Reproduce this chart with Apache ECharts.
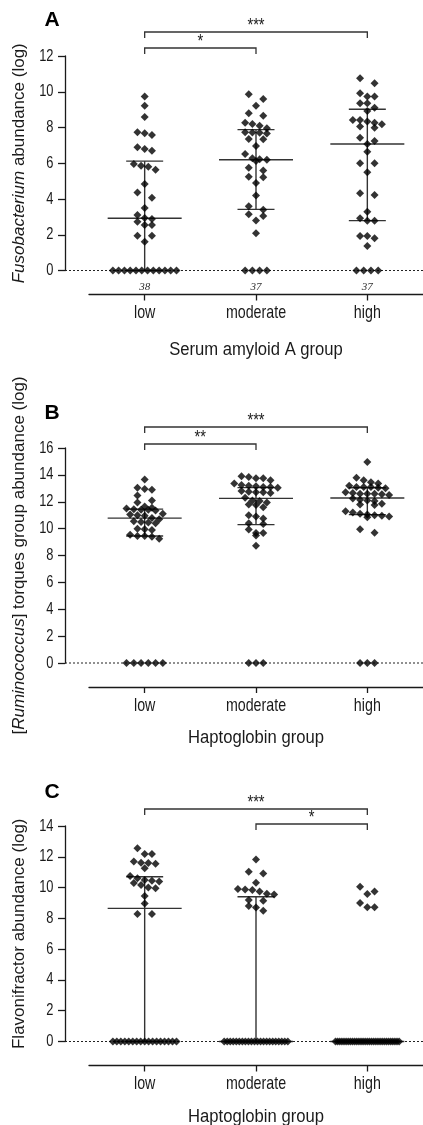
<!DOCTYPE html>
<html>
<head>
<meta charset="utf-8">
<script src="https://cdn.jsdelivr.net/npm/echarts@6/dist/echarts.min.js"></script>
<style>
  html, body { margin: 0; padding: 0; background: #fff; }
  #chart { width: 423px; height: 1125px; }
</style>
</head>
<body>
<div id="chart"></div>
<script>
// ---- data ---------------------------------------------------------------
const categories = ['low', 'moderate', 'high'];
const groupSizes = ['38', '37', '37'];

// Panel A: Fusobacterium abundance (log) by serum amyloid A group
const fusoTicks = [0, 2, 4, 6, 8, 10, 12];
const fusoLow = [9.73, 9.22, 8.59, 7.73, 7.68, 7.58, 6.89, 6.80, 6.70, 5.96, 5.86, 5.81, 5.64,
  4.84, 4.37, 4.07, 3.50, 3.11, 2.94, 2.88, 2.73, 2.55, 2.55, 1.95, 1.95, 1.61,
  0, 0, 0, 0, 0, 0, 0, 0, 0, 0, 0, 0];
const fusoModerate = [9.86, 9.60, 9.22, 8.80, 8.66, 8.27, 8.20, 8.10, 7.96, 7.74, 7.72, 7.70, 7.66,
  7.36, 7.34, 6.97, 6.52, 6.28, 6.22, 6.20, 6.13, 5.75, 5.60, 5.25, 5.22, 4.90, 4.20,
  3.60, 3.40, 3.15, 3.05, 2.80, 2.08, 0, 0, 0, 0];
const fusoHigh = [10.75, 10.47, 9.92, 9.73, 9.73, 9.36, 9.36, 9.11, 8.93, 8.42, 8.42, 8.33, 8.27,
  8.18, 8.05, 7.99, 7.43, 7.25, 7.08, 6.65, 6.00, 6.00, 5.49, 4.32, 4.22, 3.29, 2.92,
  2.79, 2.79, 1.93, 1.93, 1.80, 1.37, 0, 0, 0, 0];
const fusoMedian = [2.92, 6.20, 7.08];
const fusoQ1 = [0, 3.42, 2.79];
const fusoQ3 = [6.12, 7.88, 9.02];

// Panel B: [Ruminococcus] torques group abundance (log) by haptoglobin group
const rumTicks = [0, 2, 4, 6, 8, 10, 12, 14, 16];
const rumLow = [13.66, 13.05, 12.95, 12.90, 12.46, 12.10, 11.95, 11.65, 11.55, 11.50, 11.45, 11.40,
  11.40, 11.35, 11.10, 11.05, 11.00, 10.95, 10.80, 10.70, 10.55, 10.50, 10.45, 10.40,
  10.00, 9.95, 9.90, 9.55, 9.45, 9.45, 9.40, 9.25, 0, 0, 0, 0, 0, 0];
const rumModerate = [13.90, 13.85, 13.75, 13.75, 13.60, 13.36, 13.25, 13.20, 13.15, 13.10, 13.10,
  13.05, 12.80, 12.75, 12.70, 12.70, 12.65, 12.30, 12.10, 12.05, 11.95, 11.80, 11.75,
  11.60, 11.00, 10.90, 10.75, 10.40, 10.35, 9.93, 9.68, 9.68, 9.48, 8.73, 0, 0, 0];
const rumHigh = [14.95, 13.78, 13.60, 13.45, 13.35, 13.20, 13.10, 13.10, 13.10, 13.05, 13.00, 12.70,
  12.65, 12.60, 12.60, 12.60, 12.55, 12.50, 12.25, 12.15, 12.10, 12.05, 11.85, 11.80,
  11.75, 11.30, 11.20, 11.10, 11.05, 11.00, 10.95, 10.90, 10.85, 9.95, 9.70, 0, 0, 0];
const rumMedian = [10.78, 12.25, 12.28];
const rumQ1 = [9.45, 10.30, 11.04];
const rumQ3 = [11.45, 13.05, 13.04];

// Panel C: Flavonifractor abundance (log) by haptoglobin group
const flavTicks = [0, 2, 4, 6, 8, 10, 12, 14];
const flavLow = [12.55, 12.18, 12.18, 11.70, 11.62, 11.60, 11.55, 11.25, 10.75, 10.60, 10.50, 10.45,
  10.40, 10.30, 10.17, 10.00, 9.95, 9.45, 8.97, 8.28, 8.28,
  0, 0, 0, 0, 0, 0, 0, 0, 0, 0, 0, 0, 0, 0, 0, 0, 0];
const flavModerate = [11.83, 11.03, 10.92, 10.31, 9.90, 9.88, 9.85, 9.75, 9.60, 9.55, 9.20, 9.15,
  8.80, 8.71, 8.49,
  0, 0, 0, 0, 0, 0, 0, 0, 0, 0, 0, 0, 0, 0, 0, 0, 0, 0, 0, 0, 0, 0];
const flavHigh = [10.05, 9.75, 9.58, 9.00, 8.72, 8.72,
  0, 0, 0, 0, 0, 0, 0, 0, 0, 0, 0, 0, 0, 0, 0, 0, 0, 0, 0, 0, 0, 0, 0, 0, 0, 0, 0, 0, 0, 0, 0];
const flavMedian = [8.65, 0, 0];
const flavQ1 = [0, 0, 0];
const flavQ3 = [10.70, 9.40, 0];

// significance brackets: [from group, to group, label]
const fusoBrackets = [[0, 2, '***'], [0, 1, '*']];
const rumBrackets = [[0, 2, '***'], [0, 1, '**']];
const flavBrackets = [[0, 2, '***'], [1, 2, '*']];

// ---- layout ---------------------------------------------------------------
const SANS = "'Liberation Sans', Arial, sans-serif";
const INK = '#1a1a1a';
const GRID_LEFT = 89;
const GRID_WIDTH = 336;
const Y_OFFSET = 24;     // y axis drawn left of the plotting area
const X_OFFSET = 24;     // category axis drawn below the zero line
const DOT_GAP = 7.3;     // horizontal spacing of dots in a swarm row
const MAX_HALF = 32;     // maximum half-width of a swarm row
const ROW_PX = 6;        // values closer than this (px) share a row

const panels = [
  { letter: 'A', top: 56, height: 214.5, max: 12, ticks: fusoTicks,
    groups: [fusoLow, fusoModerate, fusoHigh], median: fusoMedian, q1: fusoQ1, q3: fusoQ3,
    brackets: fusoBrackets, bracketLift: [24, 8], letterY: 20, showN: true, titleGap: 56,
    yName: '{i|Fusobacterium} abundance (log)', xName: 'Serum amyloid A group' },
  { letter: 'B', top: 448, height: 215, max: 16, ticks: rumTicks,
    groups: [rumLow, rumModerate, rumHigh], median: rumMedian, q1: rumQ1, q3: rumQ3,
    brackets: rumBrackets, bracketLift: [21, 4], letterY: 413, showN: false, titleGap: 51,
    yName: '[{i|Ruminococcus}] torques group abundance (log)', xName: 'Haptoglobin group' },
  { letter: 'C', top: 826, height: 215.5, max: 14, ticks: flavTicks,
    groups: [flavLow, flavModerate, flavHigh], median: flavMedian, q1: flavQ1, q3: flavQ3,
    brackets: flavBrackets, bracketLift: [17, 2], letterY: 792, showN: false, titleGap: 52,
    yName: 'Flavonifractor abundance (log)', xName: 'Haptoglobin group' }
];

// Beeswarm: bin values into rows and spread each row symmetrically about the group centre.
function swarm(values, center, pxPerUnitY, pxPerUnitX) {
  const sorted = values.slice().sort((a, b) => b - a);
  const rows = [];
  let row = null;
  sorted.forEach(v => {
    if (!row || (row.start - v) * pxPerUnitY > ROW_PX) {
      row = { start: v, items: [] };
      rows.push(row);
    }
    row.items.push(v);
  });
  const out = [];
  rows.forEach(r => {
    const k = r.items.length;
    const gap = k > 1 ? Math.min(DOT_GAP, 2 * MAX_HALF / (k - 1)) : 0;
    r.items.forEach((v, i) => {
      const off = k === 2 ? (i === 0 ? -gap : gap) : (i - (k - 1) / 2) * gap;
      out.push([center + off / pxPerUnitX, v]);
    });
  });
  return out;
}

function renderStats(params, api) {
  const x = api.value(0);
  const m = api.coord([x, api.value(1)]);
  const a = api.coord([x, api.value(2)]);
  const b = api.coord([x, api.value(3)]);
  const style = { stroke: '#333', lineWidth: 1.4 };
  return {
    type: 'group',
    children: [
      { type: 'line', shape: { x1: m[0], y1: a[1], x2: m[0], y2: b[1] }, style },
      { type: 'line', shape: { x1: m[0] - 37, y1: m[1], x2: m[0] + 37, y2: m[1] }, style },
      { type: 'line', shape: { x1: a[0] - 18.5, y1: a[1], x2: a[0] + 18.5, y2: a[1] }, style },
      { type: 'line', shape: { x1: b[0] - 18.5, y1: b[1], x2: b[0] + 18.5, y2: b[1] }, style }
    ]
  };
}

const grids = [], xAxes = [], yAxes = [], series = [];
const axisLineStyle = { color: INK, width: 1.3 };

panels.forEach((p, pi) => {
  grids.push({ left: GRID_LEFT, top: p.top, width: GRID_WIDTH, height: p.height });
  xAxes.push({
    gridIndex: pi, type: 'category', data: categories, position: 'bottom',
    offset: X_OFFSET, boundaryGap: true,
    axisLine: { show: true, onZero: false, lineStyle: axisLineStyle },
    axisTick: { show: true, alignWithLabel: true, length: 6, lineStyle: axisLineStyle },
    axisLabel: { show: false },
    splitLine: { show: false }
  });
  xAxes.push({ gridIndex: pi, type: 'value', min: 0.5, max: 3.5, show: false });
  yAxes.push({
    gridIndex: pi, type: 'value', min: 0, max: p.max, interval: 2, offset: Y_OFFSET,
    axisLine: { show: true, onZero: false, lineStyle: axisLineStyle },
    axisTick: { show: true, length: 7, lineStyle: axisLineStyle },
    axisLabel: { show: false },
    splitLine: { show: false },
    name: p.yName, nameLocation: 'middle', nameGap: 37, nameRotate: 90, nameMoveOverlap: false,
    nameTextStyle: {
      fontSize: 17, fontFamily: SANS, color: INK,
      rich: { i: { fontSize: 17, fontFamily: SANS, fontStyle: 'italic', color: INK } }
    }
  });

  const pxY = p.height / p.max;
  const pxX = GRID_WIDTH / 3;
  const points = [];
  p.groups.forEach((vals, gi) => swarm(vals, gi + 1, pxY, pxX).forEach(pt => points.push(pt)));

  series.push({
    type: 'custom', xAxisIndex: 2 * pi + 1, yAxisIndex: pi, clip: false, z: 2,
    renderItem: renderStats,
    encode: { x: 0, y: [1, 2, 3] },
    data: categories.map((c, gi) => [gi + 1, p.median[gi], p.q1[gi], p.q3[gi]])
  });
  series.push({
    type: 'scatter', xAxisIndex: 2 * pi + 1, yAxisIndex: pi, clip: false, z: 3,
    symbol: 'diamond', symbolSize: 8,
    itemStyle: { color: '#000' },
    emphasis: { disabled: true },
    data: points
  });
});

const chart = echarts.init(document.getElementById('chart'), null, { renderer: 'canvas' });
chart.setOption({
  animation: false,
  backgroundColor: '#fff',
  grid: grids, xAxis: xAxes, yAxis: yAxes, series
});

// Horizontally compressed text label anchored at (x, y).
function label(text, x, y, size, squeeze, align) {
  return {
    type: 'text', x, y, scaleX: squeeze, z: 10,
    style: {
      text, fontSize: size, fontFamily: SANS, fill: INK,
      align, verticalAlign: 'middle', textAlign: align, textVerticalAlign: 'middle'
    }
  };
}

// Annotations positioned from the axes' own scales.
const graphics = [];
const lineStyle = { stroke: '#333', lineWidth: 1.3 };
panels.forEach((p, pi) => {
  const xOf = v => chart.convertToPixel({ xAxisIndex: 2 * pi + 1 }, v);
  const yOf = v => chart.convertToPixel({ yAxisIndex: pi }, v);
  const axisX = xOf(0.5) - Y_OFFSET;
  const y0 = yOf(0);
  const yTop = yOf(p.max);
  const xAxisY = y0 + X_OFFSET;

  // dotted zero line
  graphics.push({ type: 'line', z: 1,
    shape: { x1: axisX, y1: y0, x2: 423, y2: y0 },
    style: { stroke: '#222', lineWidth: 1, lineDash: [2, 2] } });

  // y tick labels
  p.ticks.forEach(t => graphics.push(label(String(t), axisX - 11.5, yOf(t), 16.5, 0.78, 'right')));

  // category labels and x title
  categories.forEach((c, gi) => graphics.push(label(c, xOf(gi + 1), xAxisY + 18.5, 18.5, 0.77, 'center')));
  graphics.push(label(p.xName, xOf(2), xAxisY + p.titleGap, 17.5, 0.95, 'center'));

  // panel letter
  graphics.push({ type: 'text', x: 52, y: p.letterY,
    style: { text: p.letter, fontSize: 21, fontWeight: 'bold', fontFamily: SANS, fill: '#000',
      align: 'center', verticalAlign: 'middle', textAlign: 'center', textVerticalAlign: 'middle' } });

  // significance brackets
  p.brackets.forEach((br, bi) => {
    const x1 = xOf(br[0] + 1), x2 = xOf(br[1] + 1);
    const by = yTop - p.bracketLift[bi];
    graphics.push({ type: 'polyline',
      shape: { points: [[x1, by + 6], [x1, by], [x2, by], [x2, by + 6]] },
      style: Object.assign({ fill: null }, lineStyle) });
    graphics.push(label(br[2], (x1 + x2) / 2, by - 6, 18, 0.82, 'center'));
  });

  // group sizes
  if (p.showN) {
    groupSizes.forEach((n, gi) => {
      graphics.push({ type: 'text', x: xOf(gi + 1), y: y0 + 16.5,
        style: { text: n, fontSize: 11, fontStyle: 'italic',
          fontFamily: '"Liberation Serif", "Times New Roman", serif', fill: '#333',
          align: 'center', verticalAlign: 'middle', textAlign: 'center', textVerticalAlign: 'middle' } });
    });
  }
});
chart.setOption({ graphic: graphics });
</script>
</body>
</html>
